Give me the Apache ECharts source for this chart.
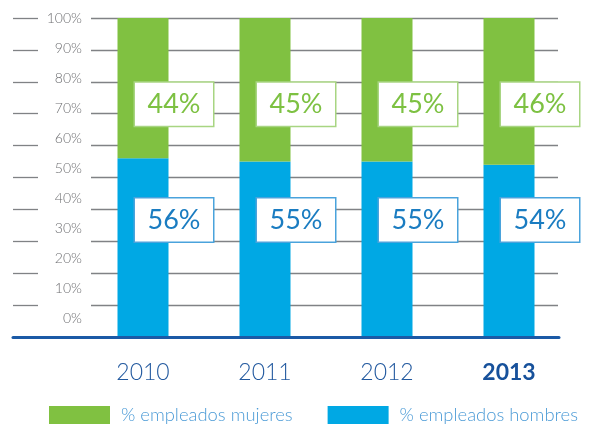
<!DOCTYPE html>
<html>
<head>
<meta charset="UTF-8">
<title>Empleados por sexo</title>
<script src="https://cdn.jsdelivr.net/npm/echarts@6/dist/echarts.min.js"></script>
<style>
  * {margin: 0; padding: 0;}
  body {background: #fff;}
  #chart {width: 590px; height: 425px;}
</style>
</head>
<body>
<div id="chart"></div>
<script>
// datos
var years = ['2010', '2011', '2012', '2013'];
var hombres = [56, 55, 55, 54];
var mujeres = [44, 45, 45, 46];
var highlightYear = '2013';

// las cajas de porcentaje van a altura fija en todas las columnas
var labelLevelMujeres = 73;
var labelLevelHombres = 36.7;

var green = '#80c141';
var blue = '#00a8e4';
var font = 'Lato, "Open Sans", sans-serif';

var chart = echarts.init(document.getElementById('chart'));

function boxLabel(values, textColor, borderColor) {
  return {
    show: true,
    position: 'inside',
    offset: [31, 0],
    formatter: function (p) { return values[p.dataIndex] + '%'; },
    opacity: 1,
    color: textColor,
    fontFamily: font,
    fontWeight: 'normal',
    fontSize: 27,
    width: 78,
    height: 43,
    lineHeight: 43,
    align: 'center',
    verticalAlign: 'middle',
    backgroundColor: '#fff',
    borderColor: borderColor,
    borderWidth: 1.5
  };
}

var option = {
  animation: false,
  grid: [
    // columnas
    {left: 82, right: 20, top: 18, bottom: 88},
    // lineas guia
    {left: 91, right: 32, top: 18, bottom: 88},
    // linea base azul
    {left: 13, right: 31, top: 18, bottom: 88},
    // etiquetas del eje (van un poco desplazadas en el original)
    {left: 91, right: 32, top: 18, bottom: 106.5}
  ],
  legend: {
    left: 49,
    top: 406,
    padding: 0,
    itemWidth: 61,
    itemHeight: 18,
    itemGap: 35,
    icon: 'rect',
    selectedMode: false,
    data: ['% empleados mujeres', '% empleados hombres'],
    textStyle: {
      color: '#4a9ad6',
      fontFamily: font,
      fontWeight: 300,
      fontSize: 18.4,
      padding: [0, 0, 0, 6]
    }
  },
  xAxis: [
    {
      gridIndex: 0,
      type: 'category',
      data: years.map(function (y) {
        return y === highlightYear
          ? {value: y, textStyle: {fontWeight: 'bold', color: '#17519b'}}
          : y;
      }),
      axisLine: {show: false},
      axisTick: {show: false},
      axisLabel: {
        margin: 24,
        fontSize: 23,
        fontFamily: font,
        fontWeight: 300,
        color: '#22599f'
      }
    },
    {gridIndex: 1, type: 'value', show: false},
    {
      gridIndex: 2, type: 'value', min: 0, max: 1,
      axisLine: {show: true, lineStyle: {color: '#1b5aa6', width: 3}},
      axisTick: {show: false},
      axisLabel: {show: false},
      splitLine: {show: false},
      z: 10
    },
    {gridIndex: 3, type: 'value', show: false}
  ],
  yAxis: [
    {
      gridIndex: 0, type: 'value', min: 0, max: 100, interval: 10,
      show: false
    },
    {
      gridIndex: 1, type: 'value', min: 0, max: 100, interval: 10,
      axisLine: {show: false},
      axisTick: {show: false},
      axisLabel: {show: false},
      splitLine: {show: true, lineStyle: {color: '#808285', width: 1.3}}
    },
    {
      // trocitos de linea a la izquierda de las etiquetas
      gridIndex: 1, type: 'value', min: 0, max: 100, interval: 10,
      position: 'left',
      offset: 53,
      axisLine: {show: false},
      axisTick: {show: true, length: 25, lineStyle: {color: '#808285', width: 1.3}},
      axisLabel: {show: false},
      splitLine: {show: false}
    },
    {
      gridIndex: 3, type: 'value', min: 0, max: 100, interval: 10,
      axisLine: {show: false},
      axisTick: {show: false},
      splitLine: {show: false},
      axisLabel: {
        margin: 9,
        formatter: '{value}%',
        color: '#6f7073',
        fontFamily: font,
        fontWeight: 300,
        fontSize: 14
      }
    },
    // el grid de la linea base tambien necesita eje y
    {gridIndex: 2, type: 'value', show: false}
  ],
  series: [
    {
      name: '% empleados hombres',
      type: 'bar',
      stack: 'total',
      xAxisIndex: 0,
      yAxisIndex: 0,
      barWidth: 51,
      itemStyle: {color: blue},
      data: hombres
    },
    {
      name: '% empleados mujeres',
      type: 'bar',
      stack: 'total',
      xAxisIndex: 0,
      yAxisIndex: 0,
      barWidth: 51,
      itemStyle: {color: green},
      data: mujeres
    },
    {
      type: 'scatter',
      xAxisIndex: 0,
      yAxisIndex: 0,
      symbolSize: 0,
      silent: true,
      z: 5,
      itemStyle: {opacity: 1},
      label: boxLabel(mujeres, '#7dc142', '#a8d582'),
      data: years.map(function (y) { return [y, labelLevelMujeres]; })
    },
    {
      type: 'scatter',
      xAxisIndex: 0,
      yAxisIndex: 0,
      symbolSize: 0,
      silent: true,
      z: 5,
      itemStyle: {opacity: 1},
      label: boxLabel(hombres, '#1a7cc1', '#4aa3dc'),
      data: years.map(function (y) { return [y, labelLevelHombres]; })
    }
  ]
};

chart.setOption(option);
</script>
</body>
</html>
